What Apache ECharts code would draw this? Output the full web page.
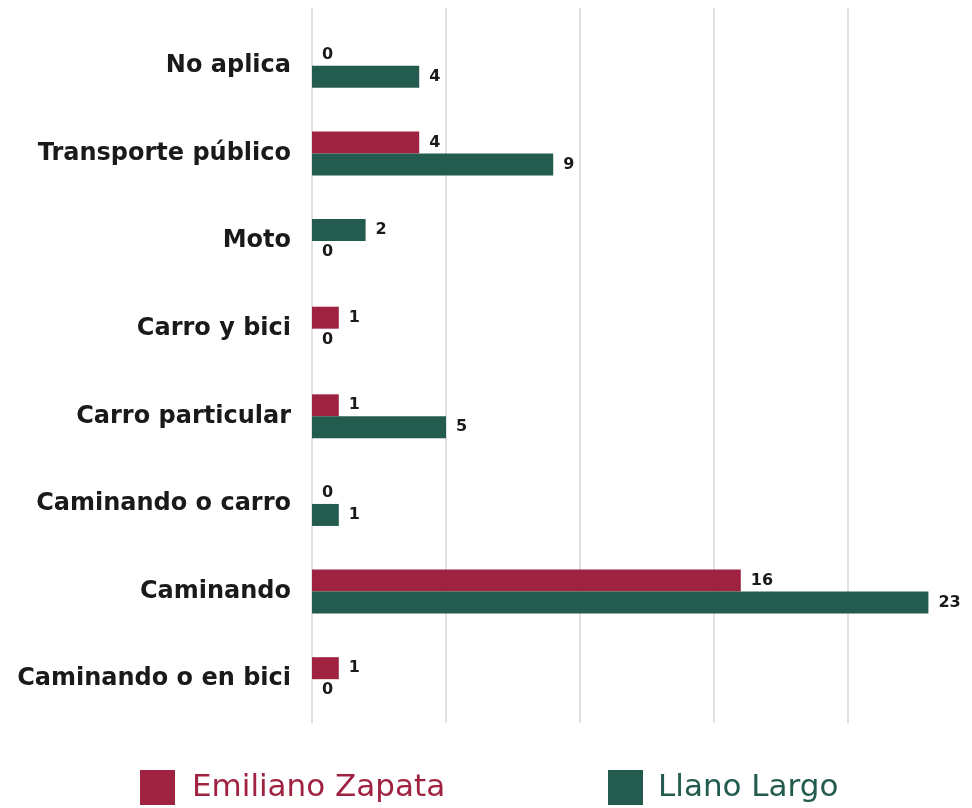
<!DOCTYPE html>
<html>
<head>
<meta charset="utf-8">
<script src="https://cdn.jsdelivr.net/npm/echarts@6/dist/echarts.min.js"></script>
<style>
  html, body { margin: 0; padding: 0; background: #fff; }
  #chart { width: 972px; height: 808px; }
</style>
</head>
<body>
<div id="chart"></div>
<script>
const categories = ['No aplica', 'Transporte público', 'Moto', 'Carro y bici', 'Carro particular', 'Caminando o carro', 'Caminando', 'Caminando o en bici'];
const emilianoZapata = [0, 4, 0, 1, 1, 0, 16, 1];
const llanoLargo = [4, 9, 2, 0, 5, 1, 23, 0];
const seriesNames = ['Emiliano Zapata', 'Llano Largo'];
// in the original, the Moto row has its two bars in the opposite order
const swappedRows = ['Moto'];
const colors = ['#9F2241', '#235B4E'];

const font = 'DejaVu Sans';

// top slot / bottom slot in each row
const topSlot = categories.map((c, i) => swappedRows.includes(c)
  ? { value: llanoLargo[i], itemStyle: { color: colors[1] } }
  : emilianoZapata[i]);
const bottomSlot = categories.map((c, i) => swappedRows.includes(c)
  ? { value: emilianoZapata[i], itemStyle: { color: colors[0] } }
  : llanoLargo[i]);

const valueLabel = {
  show: true,
  position: 'right',
  distance: 10,
  color: '#1a1a1a',
  fontFamily: font,
  fontWeight: 'bold',
  fontSize: 16
};

const chart = echarts.init(document.getElementById('chart'));
chart.setOption({
  animation: false,
  grid: [
    { left: 312, width: 670, top: 22, bottom: 85, outerBoundsMode: 'none' },
    { left: 312, width: 670, top: 8, bottom: 85, outerBoundsMode: 'none' }
  ],
  xAxis: [
    { type: 'value', gridIndex: 0, min: 0, max: 25, interval: 5, show: false },
    {
      type: 'value', gridIndex: 1, min: 0, max: 25, interval: 5,
      axisLine: { show: false }, axisTick: { show: false }, axisLabel: { show: false },
      splitLine: { show: true, showMaxLine: false, lineStyle: { color: '#d6d6d6', width: 1.5 } }
    }
  ],
  yAxis: [
    {
      type: 'category', gridIndex: 0, data: categories, inverse: true,
      axisLine: { show: false }, axisTick: { show: false },
      axisLabel: { margin: 21, color: '#1a1a1a', fontFamily: font, fontWeight: 'bold', fontSize: 24 }
    },
    { type: 'value', gridIndex: 1, show: false }
  ],
  legend: [
    {
      data: [seriesNames[0]], left: 135, top: 765, icon: 'rect',
      itemWidth: 35, itemHeight: 35,
      textStyle: { color: colors[0], fontFamily: font, fontSize: 31, padding: [0, 0, 0, 12] }
    },
    {
      data: [seriesNames[1]], left: 603, top: 765, icon: 'rect',
      itemWidth: 35, itemHeight: 35,
      textStyle: { color: colors[1], fontFamily: font, fontSize: 31, padding: [0, 0, 0, 10] }
    }
  ],
  series: [
    {
      name: seriesNames[0], type: 'bar', data: topSlot,
      xAxisIndex: 0, yAxisIndex: 0,
      barWidth: 22, barGap: '0%',
      itemStyle: { color: colors[0] }, label: valueLabel
    },
    {
      name: seriesNames[1], type: 'bar', data: bottomSlot,
      xAxisIndex: 0, yAxisIndex: 0,
      barWidth: 22, barGap: '0%',
      itemStyle: { color: colors[1] }, label: valueLabel
    }
  ]
});
</script>
</body>
</html>
